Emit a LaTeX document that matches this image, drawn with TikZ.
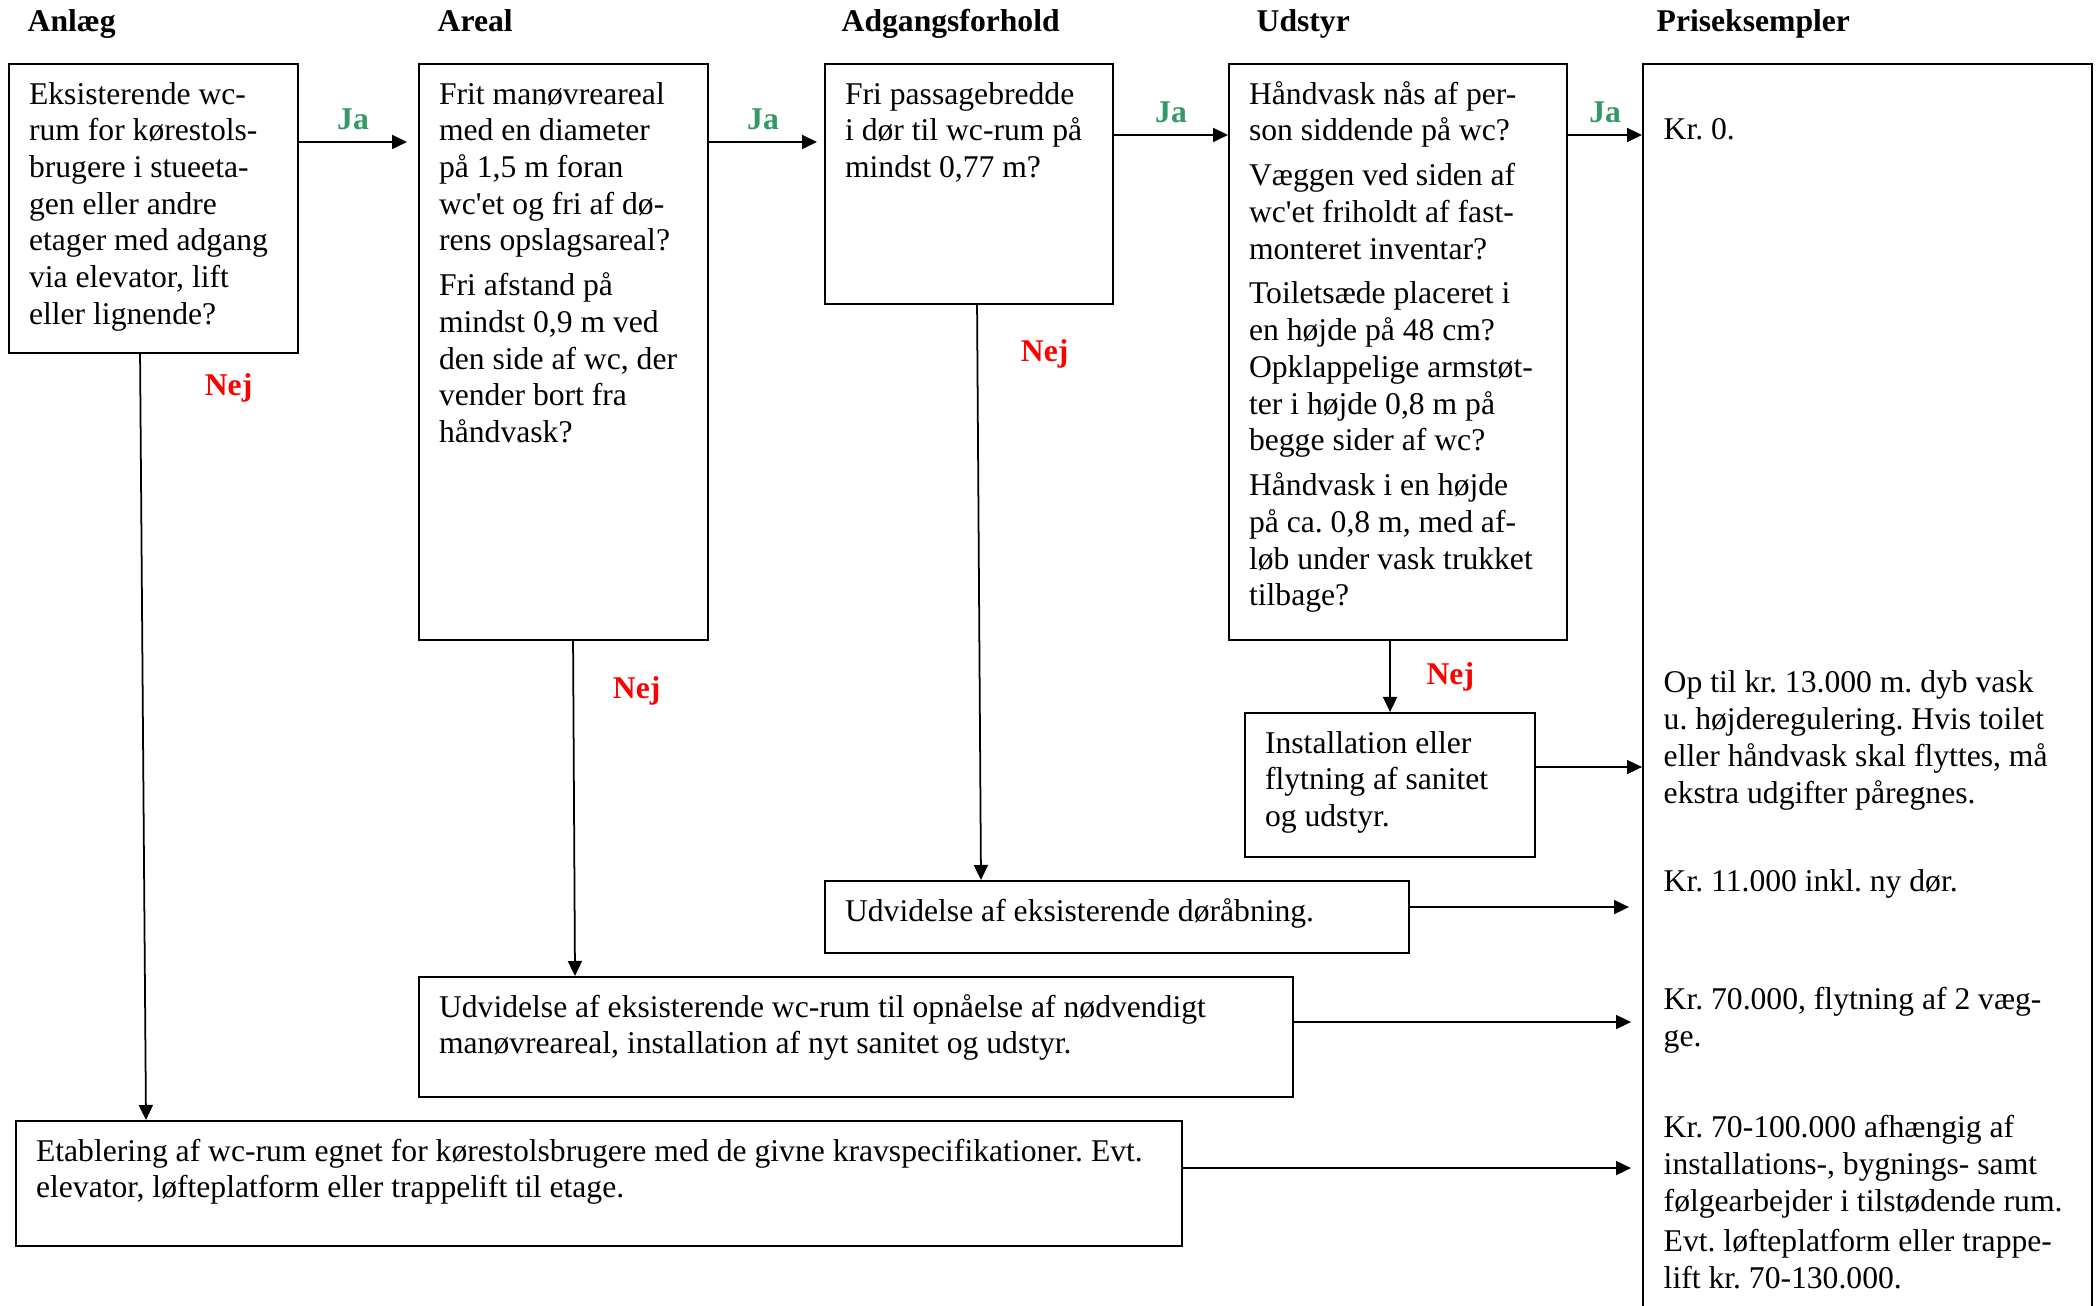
\documentclass[tikz,border=0pt]{standalone}
\usepackage{fontspec}
\setmainfont{Liberation Serif}
\usetikzlibrary{arrows.meta,positioning}
\definecolor{jagreen}{RGB}{51,153,102}
\newcommand{\chartfont}{\fontsize{9pt}{10.45pt}\selectfont\frenchspacing}

\begin{document}
\begin{tikzpicture}[font=\chartfont,
  box/.style={draw, line width=0.6pt, anchor=north west, align=flush left,
    inner xsep=0.2cm, inner ysep=0.2cm, text height=0.2cm},
  head/.style={font=\chartfont\bfseries, anchor=base west, inner sep=0pt},
  price/.style={anchor=base west, align=flush left, text width=4.2cm, inner sep=0pt},
  ja/.style={text=jagreen, font=\chartfont\bfseries, above},
  nej/.style={text=red, font=\chartfont\bfseries},
  arr/.style={-{Triangle[length=0.15cm,width=0.14cm]}, line width=0.5pt}]
  \useasboundingbox (0,0) rectangle (20.98,-13.06);

  \node[head] (h-anlaeg) at (0.27,-0.32) {Anlæg};
  \node[head] (h-areal) at (4.37,-0.32) {Areal};
  \node[head] (h-adgang) at (8.41,-0.32) {Adgangsforhold};
  \node[head] (h-udstyr) at (12.56,-0.32) {Udstyr};
  \node[head] (h-pris) at (16.56,-0.32) {Priseksempler};

  % spoergsmaal
  \node[box, text width=2.49cm, text depth=2.29cm] (anlaeg) at (0.08,-0.63)
    {Eksisterende wc-\\rum for kørestols-\\brugere i stueeta-\\gen eller andre\\etager med adgang\\via elevator, lift\\eller lignende?};
  \node[box, text width=2.49cm, text depth=5.16cm] (areal) at (4.18,-0.63)
    {Frit manøvreareal\\med en diameter\\på 1,5 m foran\\wc\textquotesingle et og fri af dø-\\rens opslagsareal?\\[2.3pt]Fri afstand på\\mindst 0,9 m ved\\den side af wc, der\\vender bort fra\\håndvask?};
  \node[box, text width=2.48cm, text depth=1.80cm] (adgang) at (8.24,-0.63)
    {Fri passagebredde\\i dør til wc-rum på\\mindst 0,77 m?};
  \node[box, text width=2.98cm, text depth=5.16cm] (udstyr) at (12.28,-0.63)
    {Håndvask nås af per-\\son siddende på wc?\\[2.3pt]Væggen ved siden af\\wc\textquotesingle et friholdt af fast-\\monteret inventar?\\[2.3pt]Toiletsæde placeret i\\en højde på 48 cm?\\Opklappelige armstøt-\\ter i højde 0,8 m på\\begge sider af wc?\\[2.3pt]Håndvask i en højde\\på ca. 0,8 m, med af-\\løb under vask trukket\\tilbage?};
  \node[box, minimum width=4.49cm, minimum height=12.47cm] (prices) at (16.42,-0.63) {};

  % tiltag
  \node[box, text width=2.50cm, text depth=0.84cm] (install) at (12.44,-7.12)
    {Installation eller\\flytning af sanitet\\og udstyr.};
  \node[box, text width=5.44cm, text depth=0.12cm] (doer) at (8.24,-8.80)
    {Udvidelse af eksisterende døråbning.};
  \node[box, text width=8.34cm, text depth=0.60cm] (udvid) at (4.18,-9.76)
    {Udvidelse af eksisterende wc-rum til opnåelse af nødvendigt\\manøvreareal, installation af nyt sanitet og udstyr.};
  \node[box, text width=11.26cm, text depth=0.65cm] (etab) at (0.15,-11.20)
    {Etablering af wc-rum egnet for kørestolsbrugere med de givne kravspecifikationer. Evt.\\elevator, løfteplatform eller trappelift til etage.};

  % priser
  \node[price] (p-nul) at (16.63,-1.40) {Kr. 0.};
  \node[price] (p-install) at (16.63,-6.93)
    {Op til kr. 13.000 m. dyb vask\\u. højderegulering. Hvis toilet\\eller håndvask skal flyttes, må\\ekstra udgifter påregnes.};
  \node[price] (p-doer) at (16.63,-8.92) {Kr. 11.000 inkl. ny dør.};
  \node[price] (p-udvid) at (16.63,-10.10) {Kr. 70.000, flytning af 2 væg-\\ge.};
  \node[price] (p-etab) at (16.63,-11.38)
    {Kr. 70-100.000 afhængig af\\installations-, bygnings- samt\\følgearbejder i tilstødende rum.\\[1pt]Evt. løfteplatform eller trappe-\\lift kr. 70-130.000.};

  % ja
  \draw[arr] ([yshift=-0.79cm]anlaeg.north east) -- node[ja] {Ja} ([xshift=-0.11cm,yshift=-0.79cm]areal.north west);
  \draw[arr] ([yshift=-0.79cm]areal.north east) -- node[ja] {Ja} ([xshift=-0.07cm,yshift=-0.79cm]adgang.north west);
  \draw[arr] ([yshift=-0.72cm]adgang.north east) -- node[ja] {Ja} ([yshift=-0.72cm]udstyr.north west);
  \draw[arr] ([yshift=-0.72cm]udstyr.north east) -- node[ja] {Ja} ([yshift=-0.72cm]prices.north west);

  % nej
  \draw[arr] ([xshift=-0.135cm]anlaeg.south) -- node[nej, pos=0.044, right=0.52cm] {Nej} ([xshift=1.31cm]etab.north west);
  \draw[arr] ([xshift=0.095cm]areal.south) -- node[nej, pos=0.15, right=0.27cm] {Nej} ([xshift=1.57cm]udvid.north west);
  \draw[arr] ([xshift=0.08cm]adgang.south) -- node[nej, pos=0.085, right=0.31cm] {Nej} ([xshift=1.57cm]doer.north west);
  \draw[arr] (install.north |- udstyr.south) -- node[nej, right=0.24cm] {Nej} (install.north);

  % til priser
  \coordinate (install-out) at ([yshift=0.18cm]install.east);
  \coordinate (doer-out) at ([yshift=0.10cm]doer.east);
  \coordinate (udvid-out) at ([yshift=0.15cm]udvid.east);
  \coordinate (etab-out) at ([yshift=0.155cm]etab.east);
  \draw[arr] (install-out) -- (install-out -| prices.west);
  \draw[arr, shorten >=0.13cm] (doer-out) -- (doer-out -| prices.west);
  \draw[arr, shorten >=0.11cm] (udvid-out) -- (udvid-out -| prices.west);
  \draw[arr, shorten >=0.11cm] (etab-out) -- (etab-out -| prices.west);
\end{tikzpicture}
\end{document}
